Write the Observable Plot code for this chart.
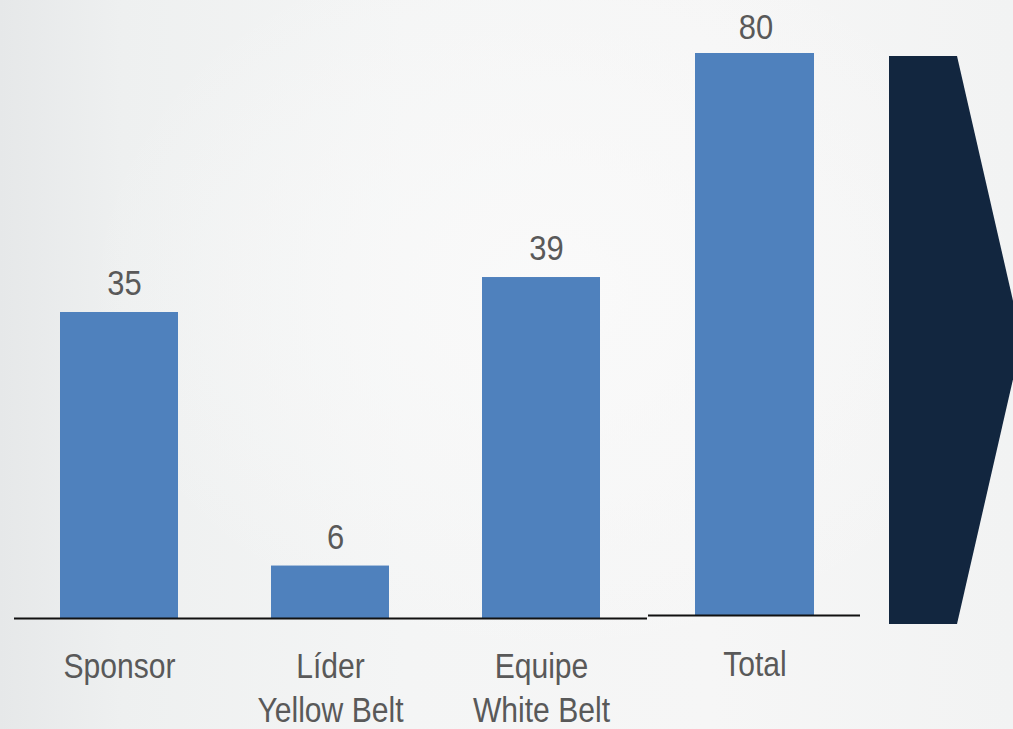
<!DOCTYPE html>
<html>
<head>
<meta charset="utf-8">
<script src="https://cdn.jsdelivr.net/npm/d3@7"></script>
<script src="https://cdn.jsdelivr.net/npm/@observablehq/plot@0.6"></script>
<style>
  html, body { margin: 0; padding: 0; overflow: hidden; }
  #stage {
    position: relative; width: 1013px; height: 729px; overflow: hidden;
    background:
      radial-gradient(ellipse at 55% 40%, rgba(250,250,250,0.9) 0%, rgba(245,246,246,0) 60%),
      linear-gradient(90deg, #e6e8e9 0%, #eef0f0 12%, #f4f5f5 40%, #f6f6f6 70%, #f2f3f3 100%);
    font-family: "Liberation Sans", Arial, sans-serif;
  }
  .chart { position: absolute; top: 0; }
  .chart svg { background: transparent !important; overflow: visible; }
  #chevron { position: absolute; left: 889px; top: 56px; }
</style>
</head>
<body>
<div id="stage">
  <svg id="chevron" width="140" height="568"><polygon points="0,0 68,0 133,284 68,568 0,568" fill="#12263f"/></svg>
</div>
<script>
// Group chart (first three categories)
const groups = ["Sponsor", "Líder\nYellow Belt", "Equipe\nWhite Belt"];
const groupValues = [35, 6, 39];
// Total chart
const totalLabel = ["Total"];
const totalValue = [80];

const font = '"Liberation Sans", Arial, sans-serif';
const barColor = "#4f81bd";
const textColor = "#595959";

const groupData = groups.map((c, i) => ({cat: c, value: groupValues[i]}));
const totalData = totalLabel.map((c, i) => ({cat: c, value: totalValue[i]}));

function makeChart(data, opts) {
  return Plot.plot({
    width: opts.width,
    height: 729,
    marginLeft: opts.marginLeft,
    marginRight: opts.marginRight,
    marginTop: opts.marginTop,
    marginBottom: opts.marginBottom,
    style: {fontFamily: font, background: "transparent", overflow: "visible"},
    x: {domain: data.map(d => d.cat), paddingInner: 0.44, paddingOuter: 0.22, axis: null},
    y: {domain: opts.yDomain, axis: null},
    marks: [
      Plot.barY(data, {x: "cat", y: "value", fill: barColor}),
      Plot.ruleY([0], {stroke: "#111", strokeWidth: 2}),
      Plot.text(data, {x: "cat", y: "value", text: d => String(d.value), dy: opts.valueDy, dx: opts.valueDx,
        fill: textColor, fontSize: 36, textAnchor: "middle"}),
      Plot.text(data, {x: "cat", y: 0, text: "cat", lineAnchor: "top", dy: opts.labelDy,
        lineHeight: 1.26, fill: textColor, fontSize: 35, textAnchor: "middle"})
    ]
  });
}

// condense the text horizontally (narrow face look)
function condense(svg) {
  d3.select(svg).selectAll("text").each(function() {
    const t = this.getAttribute("transform");
    if (t) this.setAttribute("transform", t + " scale(0.86,1)");
  });
}

const stage = document.getElementById("stage");

const c1 = makeChart(groupData, {width: 662, marginLeft: 14, marginRight: 15, marginTop: 6, marginBottom: 111,
  yDomain: [0, 70], valueDy: -29, valueDx: 5, labelDy: 28});
condense(c1);
const w1 = document.createElement("div"); w1.className = "chart"; w1.style.left = "0px";
w1.appendChild(c1); stage.appendChild(w1);

const c2 = makeChart(totalData, {width: 212, marginLeft: 0, marginRight: 0, marginTop: 53, marginBottom: 114,
  yDomain: [0, 80], valueDy: -26, valueDx: 1, labelDy: 29});
condense(c2);
const w2 = document.createElement("div"); w2.className = "chart"; w2.style.left = "648px";
w2.appendChild(c2); stage.appendChild(w2);
</script>
</body>
</html>
